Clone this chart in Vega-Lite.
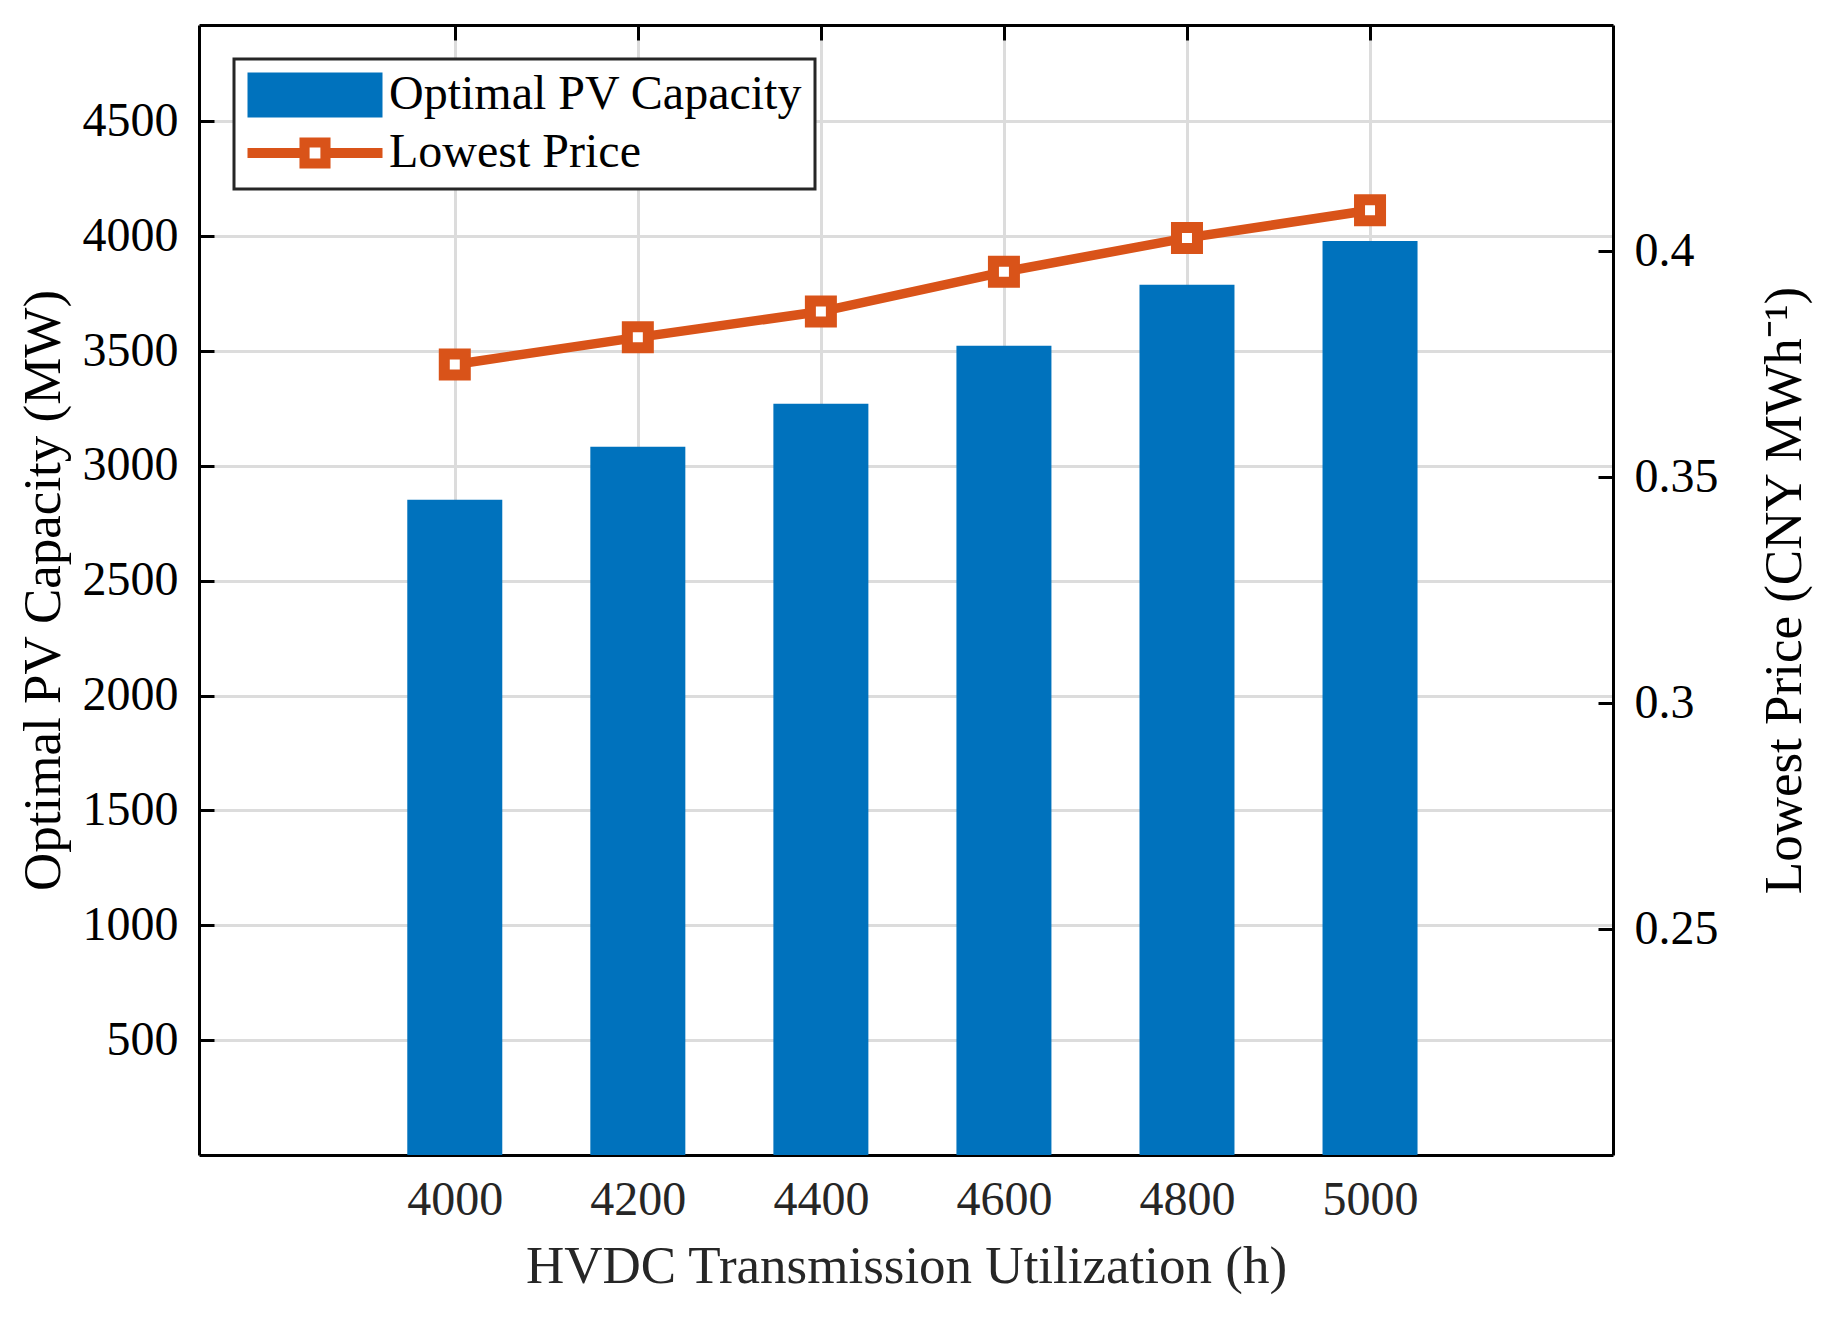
{
  "$schema": "https://vega.github.io/schema/vega-lite/v6.json",
  "width": 1414,
  "height": 1130,
  "autosize": {"type": "none"},
  "padding": {"left": 199, "top": 25, "right": 223, "bottom": 162},
  "background": "white",
  "config": {
    "font": "Liberation Serif",
    "view": {"stroke": null},
    "axis": {
      "domainColor": "#000000",
      "domainWidth": 3,
      "tickColor": "#000000",
      "tickWidth": 3,
      "tickSize": -15,
      "labelFont": "Liberation Serif",
      "labelFontSize": 48,
      "labelColor": "#000000",
      "labelPadding": 36,
      "titleFont": "Liberation Serif",
      "titleFontSize": 53,
      "titleFontWeight": "normal",
      "titleColor": "#000000",
      "gridColor": "#dcdcdc",
      "gridWidth": 3
    }
  },
  "data": {
    "values": [
      {"h": 4000, "capacity": 2853, "price": 0.3749},
      {"h": 4200, "capacity": 3084, "price": 0.3809},
      {"h": 4400, "capacity": 3271, "price": 0.3866},
      {"h": 4600, "capacity": 3523, "price": 0.3954},
      {"h": 4800, "capacity": 3789, "price": 0.4029},
      {"h": 5000, "capacity": 3980, "price": 0.409}
    ]
  },
  "layer": [
    {
      "mark": {"type": "bar", "width": 95},
      "encoding": {
        "x": {
          "field": "h",
          "type": "quantitative",
          "scale": {"domain": [3726, 5260], "nice": false, "zero": false},
          "axis": {
            "orient": "bottom",
            "values": [4000, 4200, 4400, 4600, 4800, 5000],
            "format": "d",
            "grid": true,
            "labelPadding": 36,
            "labelColor": "#262626",
            "titleColor": "#262626",
            "title": "HVDC Transmission Utilization (h)",
            "titleX": 707,
            "titleY": 111,
            "titleAlign": "center",
            "titleBaseline": "middle"
          }
        },
        "y": {
          "field": "capacity",
          "type": "quantitative",
          "scale": {"domain": [0, 4920], "nice": false, "zero": false},
          "axis": {
            "orient": "left",
            "values": [500, 1000, 1500, 2000, 2500, 3000, 3500, 4000, 4500],
            "format": "d",
            "grid": true,
            "title": "Optimal PV Capacity (MW)",
            "titleAngle": 270,
            "titleX": -156,
            "titleY": 565,
            "titleAlign": "center",
            "titleBaseline": "middle"
          }
        },
        "color": {
          "datum": "Optimal PV Capacity",
          "scale": {
            "domain": ["Optimal PV Capacity", "Lowest Price"],
            "range": ["#0072BD", "#D95319"]
          },
          "legend": {
            "title": null,
            "orient": "none",
            "legendX": 35,
            "legendY": 34,
            "padding": 12,
            "fillColor": "white",
            "strokeColor": "#262626",
            "symbolSize": 2025,
            "symbolStrokeWidth": 0,
            "symbolOffset": 45,
            "labelOffset": 50,
            "labelFont": "Liberation Serif",
            "labelFontSize": 48,
            "labelColor": "#000000",
            "labelLimit": 1000,
            "rowPadding": 10,
            "encode": {
              "legend": {"update": {"strokeWidth": {"value": 3}}},
              "symbols": {
                "update": {
                  "shape": [
                    {"test": "datum.value === 'Lowest Price'", "value": "M-3,-0.222H-0.69V0.222H-3Z M0.69,-0.222H3V0.222H0.69Z M-0.69,-0.69H0.69V0.69H-0.69Z M-0.24,-0.24V0.24H0.24V-0.24Z"},
                    {"value": "M-3,-1H3V1H-3Z"}
                  ],
                  "fill": [
                    {"test": "datum.value === 'Lowest Price'", "value": "#D95319"},
                    {"value": "#0072BD"}
                  ],
                  "stroke": {"value": "transparent"},
                  "strokeWidth": {"value": 0},
                  "opacity": {"value": 1},
                  "fillOpacity": {"value": 1},
                  "size": {"value": 2025}
                }
              }
            }
          }
        }
      }
    },
    {
      "encoding": {
        "x": {
          "field": "h",
          "type": "quantitative",
          "axis": {
            "orient": "top",
            "values": [4000, 4200, 4400, 4600, 4800, 5000],
            "labels": false,
            "grid": false,
            "title": null
          }
        },
        "y": {
          "field": "price",
          "type": "quantitative",
          "scale": {"domain": [0.2, 0.45], "nice": false, "zero": false},
          "axis": {
            "orient": "right",
            "values": [0.25, 0.3, 0.35, 0.4],
            "format": ".2~f",
            "grid": false,
            "title": "Lowest Price (CNY MWh⁻¹)",
            "titleAngle": 270,
            "titleX": 171,
            "titleY": 565,
            "titleAlign": "center",
            "titleBaseline": "middle"
          }
        }
      },
      "layer": [
        {
          "mark": {"type": "line", "strokeWidth": 9.5},
          "encoding": {"color": {"datum": "Lowest Price"}}
        },
        {
          "mark": {
            "type": "point",
            "shape": "square",
            "size": 441,
            "filled": true,
            "fill": "white",
            "stroke": "#D95319",
            "strokeWidth": 11,
            "opacity": 1
          }
        }
      ]
    }
  ],
  "resolve": {"scale": {"y": "independent"}, "axis": {"x": "independent"}}
}
